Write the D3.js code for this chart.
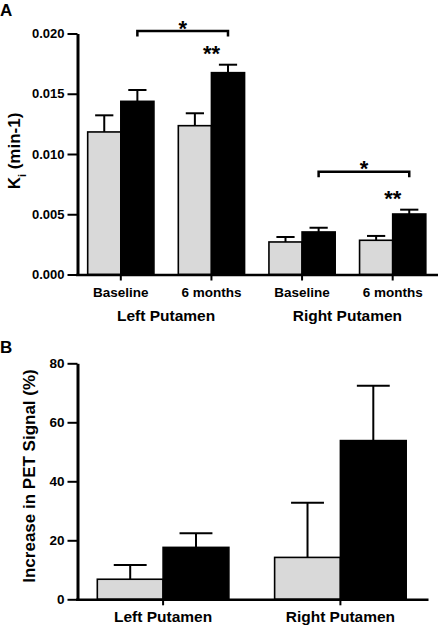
<!DOCTYPE html>
<html><head><meta charset="utf-8">
<script src="https://cdn.jsdelivr.net/npm/d3@7"></script>
<style>
html,body{margin:0;padding:0;background:#fff;}
svg{display:block;}
text{font-family:"Liberation Sans",Arial,Helvetica,sans-serif;font-weight:bold;fill:#000;}
</style></head>
<body>
<svg id="chart" width="438" height="626"></svg>
<script>
// ---------- Data ----------
const series = ["Group 1", "Group 2"];
const seriesColors = ["#d9d9d9", "#000000"];

// Panel A
const aCategories = ["Left Baseline", "Left 6 months", "Right Baseline", "Right 6 months"];
const aCategoryLabels = ["Baseline", "6 months", "Baseline", "6 months"];
const aRegions = ["Left Putamen", "Right Putamen"];
const aMeans1 = [0.01183, 0.01235, 0.00270, 0.00284];
const aErr1   = [0.00138, 0.00103, 0.00041, 0.00036];
const aMeans2 = [0.01437, 0.01675, 0.00353, 0.00502];
const aErr2   = [0.00094, 0.00066, 0.00035, 0.00036];
const aTicks = [0, 0.005, 0.010, 0.015, 0.020];
const aBrackets = [
  {from: "Left Baseline", to: "Left 6 months", level: 0.0202, label: "*"},
  {from: "Right Baseline", to: "Right 6 months", level: 0.00853, label: "*"}
];
const aDoubleStars = ["Left 6 months", "Right 6 months"];

// Panel B
const bCategories = ["Left Putamen", "Right Putamen"];
const bMeans1 = [6.8, 14.2];
const bErr1   = [4.8, 18.5];
const bMeans2 = [17.6, 53.8];
const bErr2   = [4.8, 18.6];
const bTicks = [0, 20, 40, 60, 80];

// ---------- Drawing ----------
const svg = d3.select("#chart");

function drawErrorBars(g, data, x, xs, y, capFrac) {
  data.forEach(d => {
    const cx = x(d.cat) + xs(d.s) + xs.bandwidth() / 2;
    const cw = xs.bandwidth() * capFrac;
    g.append("line").attr("x1", cx).attr("x2", cx)
      .attr("y1", y(d.v)).attr("y2", y(d.v + d.e))
      .attr("stroke", "#000").attr("stroke-width", 2);
    g.append("line").attr("x1", cx - cw / 2).attr("x2", cx + cw / 2)
      .attr("y1", y(d.v + d.e)).attr("y2", y(d.v + d.e))
      .attr("stroke", "#000").attr("stroke-width", 2);
  });
}

function drawBars(g, data, x, xs, y) {
  g.selectAll("rect.bar").data(data).join("rect")
    .attr("class", "bar")
    .attr("x", d => x(d.cat) + xs(d.s))
    .attr("width", xs.bandwidth())
    .attr("y", d => y(d.v))
    .attr("height", d => y(0) - y(d.v))
    .attr("fill", d => seriesColors[series.indexOf(d.s)])
    .attr("stroke", "#000").attr("stroke-width", 1.6);
}

function styleAxis(g, w) {
  g.select(".domain").attr("stroke-width", w);
  g.selectAll(".tick line").attr("stroke-width", 2);
}

// ----- Panel A -----
const axA = 77.5;
const xA = d3.scaleBand().domain(aCategories).range([axA - 2, 438]).paddingInner(0.269).paddingOuter(0.1345);
const xsA = d3.scaleBand().domain(series).range([0, xA.bandwidth()]);
const yA = d3.scaleLinear().domain([0, 0.020]).range([274.5, 33.5]);

const aData = [];
aCategories.forEach((c, i) => {
  aData.push({cat: c, s: series[0], v: aMeans1[i], e: aErr1[i]});
  aData.push({cat: c, s: series[1], v: aMeans2[i], e: aErr2[i]});
});

const gA = svg.append("g");
drawErrorBars(gA, aData, xA, xsA, yA, 0.55);
drawBars(gA, aData, xA, xsA, yA);

const yAxisA = gA.append("g").attr("transform", `translate(${axA},0)`)
  .call(d3.axisLeft(yA).tickValues(aTicks).tickFormat(d3.format(".3f")).tickSize(10).tickSizeOuter(0).tickPadding(3));
yAxisA.selectAll("text").style("font-size", "13px").style("font-family", "Liberation Sans, Arial").style("font-weight", "bold");
styleAxis(yAxisA, 3);

const xAxisA = gA.append("g").attr("transform", `translate(0,${yA(0)})`)
  .call(d3.axisBottom(xA).tickSize(6).tickSizeOuter(0).tickFormat(""));
styleAxis(xAxisA, 2.5);

aCategories.forEach((c, i) => {
  gA.append("text").attr("x", xA(c) + xA.bandwidth() / 2).attr("y", 297)
    .attr("text-anchor", "middle").style("font-size", "13.5px").text(aCategoryLabels[i]);
});
aRegions.forEach((r, i) => {
  const c1 = aCategories[i * 2], c2 = aCategories[i * 2 + 1];
  const cx = (xA(c1) + xA(c2) + xA.bandwidth()) / 2;
  gA.append("text").attr("x", cx).attr("y", 321)
    .attr("text-anchor", "middle").style("font-size", "15.5px").text(r);
});

// Y label with subscript
const ylA = gA.append("text").attr("transform", "translate(20,151) rotate(-90)")
  .attr("text-anchor", "middle").style("font-size", "17px");
ylA.append("tspan").text("K");
ylA.append("tspan").attr("baseline-shift", "sub").style("font-size", "11px").text("i");
ylA.append("tspan").text(" (min-1)");

// Brackets
aBrackets.forEach(b => {
  const x1 = xA(b.from) + xsA(series[1]) + xsA.bandwidth() / 2;
  const x2 = xA(b.to) + xsA(series[1]) + xsA.bandwidth() / 2;
  const yy = yA(b.level);
  gA.append("path").attr("d", `M${x1},${yy + 5.5}V${yy}H${x2}V${yy + 5.5}`)
    .attr("fill", "none").attr("stroke", "#000").attr("stroke-width", 2.5);
  gA.append("text").attr("x", (x1 + x2) / 2).attr("y", yy + 4.5)
    .attr("text-anchor", "middle").style("font-size", "22px").text(b.label);
});
aDoubleStars.forEach(c => {
  const i = aCategories.indexOf(c);
  gA.append("text").attr("x", xA(c) + xA.bandwidth() / 2).attr("y", yA(aMeans2[i] + aErr2[i]) - 4)
    .attr("text-anchor", "middle").style("font-size", "22px").text("**");
});

svg.append("text").attr("x", 0).attr("y", 16).style("font-size", "17px").text("A");

// ----- Panel B -----
const axB = 77.5;
const xB = d3.scaleBand().domain(bCategories).range([axB - 2, 428]).paddingInner(0.258).paddingOuter(0.123);
const xsB = d3.scaleBand().domain(series).range([0, xB.bandwidth()]);
const yB = d3.scaleLinear().domain([0, 80]).range([599.3, 363.3]);

const bData = [];
bCategories.forEach((c, i) => {
  bData.push({cat: c, s: series[0], v: bMeans1[i], e: bErr1[i]});
  bData.push({cat: c, s: series[1], v: bMeans2[i], e: bErr2[i]});
});

const gB = svg.append("g");
drawErrorBars(gB, bData, xB, xsB, yB, 0.5);
drawBars(gB, bData, xB, xsB, yB);

const yAxisB = gB.append("g").attr("transform", `translate(${axB},0)`)
  .call(d3.axisLeft(yB).tickValues(bTicks).tickFormat(d3.format("d")).tickSize(10).tickSizeOuter(0).tickPadding(3));
yAxisB.selectAll("text").style("font-size", "13.5px").style("font-family", "Liberation Sans, Arial").style("font-weight", "bold");
styleAxis(yAxisB, 3);

const xAxisB = gB.append("g").attr("transform", `translate(0,${yB(0)})`)
  .call(d3.axisBottom(xB).tickSize(6).tickSizeOuter(0).tickFormat(""));
styleAxis(xAxisB, 2.5);

bCategories.forEach(c => {
  gB.append("text").attr("x", xB(c) + xB.bandwidth() / 2).attr("y", 622)
    .attr("text-anchor", "middle").style("font-size", "15.5px").text(c);
});

gB.append("text").attr("transform", "translate(35,476) rotate(-90)")
  .attr("text-anchor", "middle").style("font-size", "17px").text("Increase in PET Signal (%)");

svg.append("text").attr("x", 0).attr("y", 353).style("font-size", "17px").text("B");
</script>
</body></html>
